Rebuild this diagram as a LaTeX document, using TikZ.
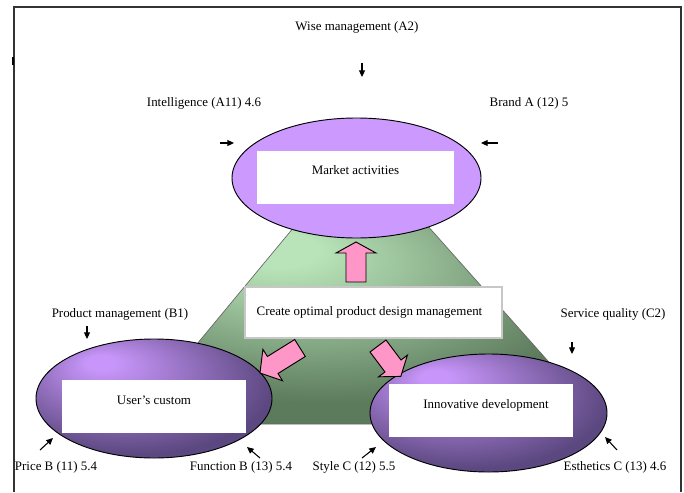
\documentclass[tikz,border=0pt]{standalone}
\usepackage{fontspec}
\setmainfont{Liberation Serif}
\usetikzlibrary{arrows.meta,shapes.geometric}
\definecolor{gL}{RGB}{185,228,185}
\definecolor{gD}{RGB}{92,122,92}
\definecolor{pL}{RGB}{200,150,250}
\definecolor{pD}{RGB}{92,72,128}
\definecolor{pTop}{RGB}{204,153,255}
\definecolor{pinkA}{RGB}{255,150,200}
\pgfdeclareradialshading{greensh}{\pgfpoint{-10bp}{18bp}}{color(0bp)=(gL); color(4bp)=(gL); color(28bp)=(gD); color(50bp)=(gD)}
\pgfdeclareradialshading{purpsh}{\pgfpoint{-12bp}{16bp}}{color(0bp)=(pL); color(3bp)=(pL); color(30bp)=(pD); color(50bp)=(pD)}
\begin{document}
\begin{tikzpicture}[x=0.75pt,y=-0.75pt,
  lbl/.style={font=\fontsize{9.7}{11.6}\selectfont, inner sep=0pt},
  ptr/.style={-{Triangle[length=5pt,width=4.5pt]}, line width=0.8pt},
  wbox/.style={fill=white, draw=none, inner sep=0pt},
  oval/.style={ellipse, draw=black, line width=0.7pt, inner sep=0pt},
  blk/.style={fill=pinkA, draw=black, line width=0.7pt, line join=miter},
  frm/.style={line width=1.2pt, draw=black!80}]
\useasboundingbox (0,0) rectangle (684,492);
% frame
\draw[frm] (14,492) -- (14,7) -- (681,7) -- (681,492);
\fill (11.5,57) rectangle (13.5,65);
% trapezoid
\shade[shading=greensh, draw=black!60, line width=0.5pt] (304,215) -- (418,215) -- (604,424) -- (130.6,424) -- cycle;
% top ellipse
\node[oval, fill=pTop, minimum width=249*0.75pt, minimum height=120*0.75pt] (ma) at (356.5,178) {};
\node[wbox, minimum width=197*0.75pt, minimum height=53*0.75pt] (mabox) at (355.5,177.5) {};
\node[lbl] (matext) at (355.5,170) {Market activities};
% center box
\node[wbox, draw=black!22, line width=0.8pt, minimum width=257*0.75pt, minimum height=51*0.75pt] (cbox) at (373.5,312.5) {};
\node[lbl] (ctext) at (369.5,312) {Create optimal product design management};
% bottom ellipses
\node[oval, shade, shading=purpsh, minimum width=236*0.75pt, minimum height=119*0.75pt] (uc) at (154,398.5) {};
\node[wbox, minimum width=184*0.75pt, minimum height=53*0.75pt] (ucbox) at (154,406.5) {};
\node[lbl] (uctext) at (154,400) {User’s custom};
\node[oval, shade, shading=purpsh, minimum width=237*0.75pt, minimum height=118*0.75pt] (id) at (488.5,413) {};
\node[wbox, minimum width=184*0.75pt, minimum height=53*0.75pt] (idbox) at (481,410.5) {};
\node[lbl] (idtext) at (486,405) {Innovative development};
% block arrows
\draw[blk] (346,282) -- (346,253) -- (336,253) -- (356,242) -- (376,253) -- (366,253) -- (366,282) -- cycle;
\draw[blk] (305.3,356.5) -- (278,373.5) -- (282.5,380.7) -- (260,373) -- (262.9,349.3) -- (267.4,356.5) -- (294.7,339.5) -- cycle;
\draw[blk] (386,340) -- (401,360) -- (407.4,355.2) -- (400.8,376.4) -- (378.6,376.8) -- (385,372) -- (370,352) -- cycle;
% labels
\node[lbl] (wise) at (357,27) {Wise management (A2)};
\node[lbl] (intel) at (204,103) {Intelligence (A11) 4.6};
\node[lbl] (brand) at (529,103) {Brand A (12) 5};
\node[lbl] (prodm) at (120,314) {Product management (B1)};
\node[lbl] (servq) at (613,314) {Service quality (C2)};
\node[lbl] (price) at (56,467) {Price B (11) 5.4};
\node[lbl] (func) at (241,467) {Function B (13) 5.4};
\node[lbl] (style) at (354,467) {Style C (12) 5.5};
\node[lbl] (esth) at (615,467) {Esthetics C (13) 4.6};
% small arrows
\coordinate (w1) at (362,63);  \coordinate (w2) at (362,77);
\coordinate (i1) at (220,143); \coordinate (i2) at (234,143);
\coordinate (b1) at (498,143); \coordinate (b2) at (481,143);
\coordinate (p1) at (87,326);  \coordinate (p2) at (87,339);
\coordinate (s1) at (572,342); \coordinate (s2) at (572,354);
\coordinate (r1) at (40,450);  \coordinate (r2) at (53,438);
\coordinate (f1) at (260,458); \coordinate (f2) at (247,447);
\coordinate (t1) at (362,458); \coordinate (t2) at (376,447);
\coordinate (e1) at (617,450); \coordinate (e2) at (605,437);
\foreach \a/\b in {w1/w2,i1/i2,b1/b2,p1/p2,s1/s2,r1/r2,f1/f2,t1/t2,e1/e2}
  \draw[ptr] (\a) -- (\b);
\end{tikzpicture}
\end{document}
